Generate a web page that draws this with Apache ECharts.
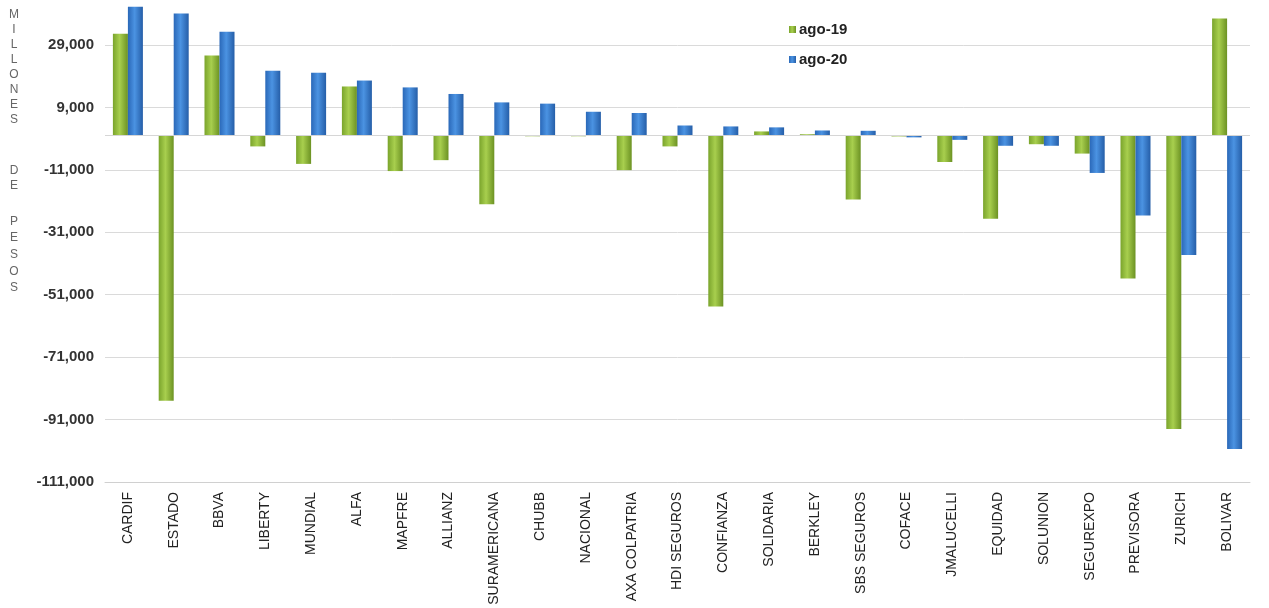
<!DOCTYPE html>
<html>
<head>
<meta charset="utf-8">
<script src="https://cdn.jsdelivr.net/npm/echarts@6/dist/echarts.min.js"></script>
<style>
  html, body { margin: 0; padding: 0; background: #fff; }
  #chart { width: 1269px; height: 608px; }
</style>
</head>
<body>
<div id="chart"></div>
<script>
// compañías
const categories = ["CARDIF", "ESTADO", "BBVA", "LIBERTY", "MUNDIAL", "ALFA", "MAPFRE", "ALLIANZ",
  "SURAMERICANA", "CHUBB", "NACIONAL", "AXA COLPATRIA", "HDI SEGUROS", "CONFIANZA", "SOLIDARIA",
  "BERKLEY", "SBS SEGUROS", "COFACE", "JMALUCELLI", "EQUIDAD", "SOLUNION", "SEGUREXPO",
  "PREVISORA", "ZURICH", "BOLIVAR"];
const seriesNames = ["ago-19", "ago-20"];
// millones de pesos
const ago19 = [32600, -85000, 25600, -3500, -9100, 15700, -11400, -7900, -22000, -250, -250, -11100,
  -3500, -54800, 1300, 400, -20500, -300, -8500, -26700, -2800, -5800, -45800, -94000, 37500];
const ago20 = [41200, 39100, 33200, 20700, 20100, 17600, 15400, 13300, 10600, 10200, 7600, 7200,
  3200, 2900, 2600, 1600, 1500, -600, -1400, -3300, -3300, -12000, -25600, -38300, -100400];
const yTitleWords = ["MILLONES", "DE", "PESOS"];

var myChart = echarts.init(document.getElementById("chart"));

function cyl(c1, c2, c3) {
  return new echarts.graphic.LinearGradient(0, 0, 1, 0, [
    { offset: 0, color: c1 },
    { offset: 0.45, color: c2 },
    { offset: 1, color: c3 }
  ]);
}

// letras apiladas del titulo vertical
function stacked(word, top, lh) {
  return {
    type: "text",
    x: 14,
    y: top,
    style: {
      text: word.split("").join("\n"),
      fontFamily: "Liberation Sans, Arial",
      fontSize: 12,
      lineHeight: lh,
      fill: "#666",
      align: "center",
      verticalAlign: "top"
    }
  };
}

var option = {
  animation: false,
  legend: {
    orient: "vertical",
    left: 784,
    top: 17,
    itemWidth: 7,
    itemHeight: 7,
    itemGap: 15,
    icon: "rect",
    textStyle: { fontFamily: "Liberation Sans, Arial", fontSize: 15, fontWeight: "bold", color: "#222", padding: [0, 0, 0, -2] },
    data: seriesNames
  },
  graphic: [
    stacked(yTitleWords[0], 7, 15),
    stacked(yTitleWords[1], 163, 15),
    stacked(yTitleWords[2], 213, 16.7)
  ],
  grid: {
    left: 105,
    right: 19,
    top: 0,
    bottom: 126
  },
  xAxis: {
    type: "category",
    data: categories,
    axisLine: { onZero: false, lineStyle: { color: "#d0d0d0" } },
    axisTick: { show: false },
    axisLabel: {
      rotate: 90,
      interval: 0,
      margin: 10,
      fontFamily: "Liberation Sans, Arial",
      fontSize: 14,
      color: "#222"
    }
  },
  yAxis: {
    type: "value",
    min: -111000,
    max: 43400,
    interval: 20000,
    axisLine: { show: false },
    axisTick: { show: false },
    splitLine: { showMaxLine: false, lineStyle: { color: "#dadada" } },
    axisLabel: {
      showMaxLabel: false,
      margin: 11,
      fontFamily: "Liberation Sans, Arial",
      fontSize: 15,
      fontWeight: "bold",
      color: "#333",
      formatter: function (v) {
        return v.toLocaleString("en-US");
      }
    }
  },
  series: [
    {
      name: seriesNames[0],
      type: "bar",
      data: ago19,
      barWidth: 15,
      barGap: "0%",
      itemStyle: { color: cyl("#7aa42c", "#a8cf4e", "#6c9223") },
      markLine: {
        silent: true,
        symbol: "none",
        label: { show: false },
        lineStyle: { color: "#d6d6d6", type: "solid", width: 1 },
        data: [{ yAxis: 0 }]
      }
    },
    {
      name: seriesNames[1],
      type: "bar",
      data: ago20,
      barWidth: 15,
      itemStyle: { color: cyl("#2a68b8", "#4b93e2", "#255ea8") }
    }
  ]
};

option && myChart.setOption(option);
</script>
</body>
</html>
